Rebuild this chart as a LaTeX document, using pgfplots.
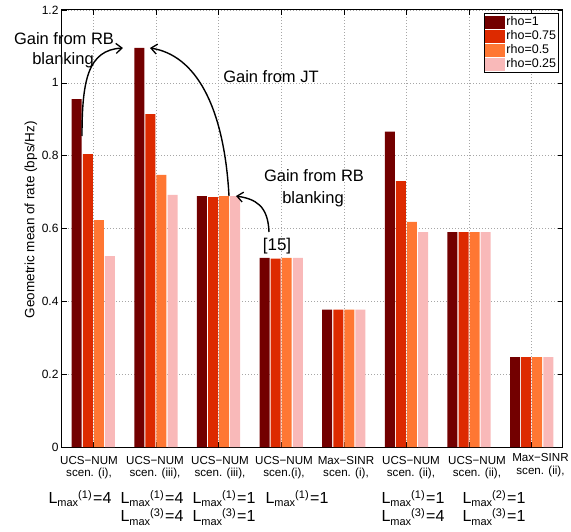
\documentclass[border=0pt]{standalone}
\usepackage{pgfplots}
\pgfplotsset{compat=1.18}
\usepackage{fontspec}
\setmainfont{Liberation Sans}
\usetikzlibrary{arrows.meta}

\definecolor{rhoA}{RGB}{115,0,0}
\definecolor{rhoB}{RGB}{221,42,0}
\definecolor{rhoC}{RGB}{255,119,51}
\definecolor{rhoD}{RGB}{249,185,185}

% L_max^{(i)} = n, written the way the scenario labels show it
\newcommand\Lmax[2]{{\fontsize{16}{16}\selectfont L}\raisebox{-3.5pt}{\fontsize{11}{11}\selectfont max}\raisebox{5pt}{\fontsize{11}{11}\selectfont (#1)}\hspace{1.5pt}{\fontsize{16}{16}\selectfont =#2}}
\newcommand\annfont{\fontsize{16.5}{18}\selectfont}
\newcommand\catfont{\fontsize{11.6}{12}\selectfont}

\begin{document}
\begin{tikzpicture}
\begin{axis}[
  width=501pt, height=437pt, scale only axis,
  xmin=0.5, xmax=8.5, ymin=0, ymax=1.2,
  xtick={1,2,3,4,5,6,7,8}, xticklabels={},
  ytick={0,0.2,0.4,0.6,0.8,1,1.2},
  yticklabel={\pgfmathprintnumber[assume math mode=true]{\tick}},
  tick label style={font=\fontsize{12}{13}\selectfont},
  ylabel={Geometric mean of rate (bps/Hz)},
  ylabel style={at={(axis description cs:-0.062,0.52)}, anchor=center, font=\fontsize{13.5}{14}\selectfont},
  grid=major,
  major grid style={dash pattern=on 1pt off 2pt, color=black!35, line width=0.6pt},
  tick align=inside, major tick length=5pt,
  tick style={black, line width=0.6pt},
  axis line style={line width=1pt},
  legend cell align=left,
  legend style={at={(1,1)}, anchor=north east, xshift=-4pt, yshift=-3pt,
    draw=black, line width=1.3pt, font=\fontsize{12.5}{13}\selectfont,
    inner xsep=1pt, inner ysep=2pt, row sep=1pt,
    nodes={inner sep=1.2pt}},
  legend image code/.code={\fill[#1] (0pt,-6.5pt) rectangle (20pt,6.5pt);},
]
\addplot[ybar, bar width=0.16, bar shift=-0.265, fill=rhoA, draw=none]
  coordinates {(1,0.955) (2,1.096) (3,0.689) (4,0.519) (5,0.377) (6,0.866) (7,0.590) (8,0.247)};
\addplot[ybar, bar width=0.16, bar shift=-0.088, fill=rhoB, draw=none]
  coordinates {(1,0.804) (2,0.914) (3,0.686) (4,0.517) (5,0.377) (6,0.730) (7,0.590) (8,0.247)};
\addplot[ybar, bar width=0.16, bar shift=0.088, fill=rhoC, draw=none]
  coordinates {(1,0.623) (2,0.747) (3,0.689) (4,0.519) (5,0.377) (6,0.618) (7,0.590) (8,0.247)};
\addplot[ybar, bar width=0.16, bar shift=0.265, fill=rhoD, draw=none]
  coordinates {(1,0.524) (2,0.692) (3,0.689) (4,0.519) (5,0.377) (6,0.590) (7,0.590) (8,0.247)};
\legend{rho=1, rho=0.75, rho=0.5, rho=0.25}
\end{axis}

% page frame: one unit = 1pt, measured from the top left corner of the figure
\coordinate (O) at ([xshift=-62pt,yshift=10pt]current axis.north west);
\begin{scope}[shift={(O)}, x=1pt, y=-1pt]
  % annotation arrows
  \draw[line width=1.4pt, -{Straight Barb[length=6pt,width=10pt,line width=1.3pt]}]
    (82,136) .. controls (82,80) and (88,50) .. (123,48);
  \draw[line width=1.4pt, -{Straight Barb[length=6pt,width=10pt,line width=1.3pt]}]
    (229,196) .. controls (224,105) and (195,55) .. (150,48);
  \draw[line width=1.4pt, -{Straight Barb[length=6pt,width=10pt,line width=1.3pt]}]
    (269,232) .. controls (268,205) and (255,199) .. (236,196);
  % annotation texts
  \node[anchor=base, inner sep=0pt, font=\annfont] at (64,45) {Gain from RB};
  \node[anchor=base, inner sep=0pt, font=\annfont] at (63,65) {blanking};
  \node[anchor=base, inner sep=0pt, font=\annfont] at (271,82.7) {Gain from JT};
  \node[anchor=base, inner sep=0pt, font=\annfont] at (314,181.7) {Gain from RB};
  \node[anchor=base, inner sep=0pt, font=\annfont] at (313,203.3) {blanking};
  \node[anchor=base, inner sep=0pt, font=\fontsize{17}{18}\selectfont] at (277,250.5) {[15]};
  % scheme and scenario names under the groups
  \foreach \x/\a/\b/\y in {89/UCS−NUM/{scen. (i),}/464,
                           155/UCS−NUM/{scen. (iii),}/464,
                           220/UCS−NUM/{scen. (iii),}/464,
                           284/UCS−NUM/{scen.(i),}/464,
                           346/Max−SINR/{scen. (i),}/464,
                           411/UCS−NUM/{scen. (ii),}/464,
                           477/UCS−NUM/{scen. (ii),}/464,
                           540.5/Max−SINR/{scen. (ii),}/461.5}{
    \node[anchor=base, inner sep=0pt, font=\catfont] at (\x,\y) {\a};
    \node[anchor=base, inner sep=0pt, font=\catfont] at (\x,\y+12.7) {\b};
  }
  % resource-block limits per scenario
  \node[anchor=base, inner sep=0pt] at (80,503.3) {\Lmax{1}{4}};
  \node[anchor=base, inner sep=0pt] at (152,503.3) {\Lmax{1}{4}};
  \node[anchor=base, inner sep=0pt] at (152,521.7) {\Lmax{3}{4}};
  \node[anchor=base, inner sep=0pt] at (224,503.3) {\Lmax{1}{1}};
  \node[anchor=base, inner sep=0pt] at (224,521.7) {\Lmax{3}{1}};
  \node[anchor=base, inner sep=0pt] at (297,503.3) {\Lmax{1}{1}};
  \node[anchor=base, inner sep=0pt] at (413,503.3) {\Lmax{1}{1}};
  \node[anchor=base, inner sep=0pt] at (413,521.7) {\Lmax{3}{4}};
  \node[anchor=base, inner sep=0pt] at (494,503.3) {\Lmax{2}{1}};
  \node[anchor=base, inner sep=0pt] at (494,521.7) {\Lmax{3}{1}};
\end{scope}
\pgfresetboundingbox
\path[use as bounding box] (O) rectangle ([xshift=571pt,yshift=-531pt]O);
\end{tikzpicture}
\end{document}
